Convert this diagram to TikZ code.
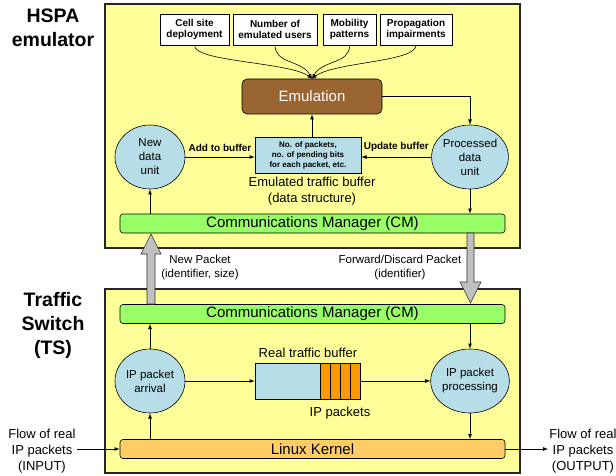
\documentclass[tikz,border=0pt]{standalone}
\usepackage{fontspec}
\setmainfont{Liberation Sans}
\usetikzlibrary{arrows,shapes.geometric}

\definecolor{panelyellow}{HTML}{FFFF99}
\definecolor{unitblue}{HTML}{B7DEE8}
\definecolor{cmgreen}{HTML}{99FF66}
\definecolor{emubrown}{HTML}{996633}
\definecolor{kernelorange}{HTML}{FFCC66}
\definecolor{pktorange}{HTML}{FF9900}
\definecolor{arrowgray}{HTML}{C0C0C0}

\begin{document}
\begin{tikzpicture}[x=1pt,y=-1pt]
      \useasboundingbox (0,0) rectangle (616,476);

      \tikzstyle{panel}=[draw=black!85,line width=1.2pt,fill=panelyellow]
      \tikzstyle{bar}=[rectangle,rounded corners=3pt,draw,line width=0.6pt,
        minimum width=385pt,minimum height=19pt,inner sep=0pt,
        font=\fontsize{15}{17}\selectfont]
      \tikzstyle{unit}=[ellipse,draw,line width=0.6pt,fill=unitblue,
        minimum width=70pt,minimum height=64pt,inner sep=0pt,align=center,
        font=\fontsize{11.5}{14}\selectfont]
      \tikzstyle{param}=[rectangle,draw,line width=0.6pt,fill=white,
        minimum height=31pt,inner sep=0pt,align=center,
        font=\fontsize{10}{11}\selectfont\bfseries]
      \tikzstyle{pkt}=[rectangle,draw,line width=0.6pt,fill=pktorange,
        minimum width=10pt,minimum height=36pt,inner sep=0pt]
      \tikzstyle{title}=[align=center,font=\fontsize{19.5}{24}\selectfont\bfseries]
      \tikzstyle{lbl}=[align=center,inner sep=1pt]
      \tikzstyle{bigarr}=[draw=black!80,line width=0.6pt,fill=arrowgray]
      \tikzstyle{ar}=[->,>=latex,line width=0.8pt]
      \tikzstyle{thin}=[->,>=latex,line width=0.6pt]

      % the two blocks
      \draw[panel] (105,4) rectangle (520,248);
      \draw[panel] (105,289) rectangle (520,473);

      \node[title] (hspat) at (53,28)  {HSPA\\emulator};
      \node[title] (tst)   at (53,325) {Traffic\\Switch\\(TS)};

      % HSPA emulator
      \node[param,minimum width=69pt] (cell) at (194.5,29.5) {Cell site\\deployment};
      \node[param,minimum width=84pt] (users) at (275,29.5) {Number of\\emulated users};
      \node[param,minimum width=53pt] (mob) at (349.5,29.5) {Mobility\\patterns};
      \node[param,minimum width=72pt] (prop) at (416,29.5) {Propagation\\impairments};

      \node[rectangle,rounded corners=5pt,draw,line width=0.6pt,fill=emubrown,
        text=white,minimum width=140pt,minimum height=35pt,
        font=\fontsize{15}{17}\selectfont] (emu) at (312,96.5) {Emulation};

      \node[unit] (newdu) at (150,157) {New\\data\\unit};
      \node[unit] (procdu) at (470,157) {Processed\\data\\unit};

      \node[rectangle,draw,line width=0.6pt,fill=unitblue,minimum width=106pt,
        minimum height=36pt,inner sep=0pt,align=center,
        font=\fontsize{8}{10}\selectfont\bfseries] (ebuf) at (308,155)
        {No. of packets,\\no. of pending bits\\for each packet, etc.};
      \node[lbl,font=\fontsize{13}{16}\selectfont] (ebufl) at (312,191)
        {Emulated traffic buffer\\(data structure)};

      \node[bar,fill=cmgreen] (cmtop) at (312.5,223.5) {Communications Manager (CM)};

      \draw[thin] (cell.south) .. controls (194,62) and (290,62) .. (emu.north);
      \draw[thin] (users.south) .. controls (275,64) and (302,60) .. (emu.north);
      \draw[thin] (mob.south) .. controls (350,64) and (322,60) .. (emu.north);
      \draw[thin] (prop.south) .. controls (416,62) and (334,62) .. (emu.north);

      \draw[ar] (emu.east) -| (procdu.north);
      \draw[ar] (ebuf.north -| emu.south) -- (emu.south);
      \draw[ar] (newdu.east) -- (newdu.east -| ebuf.west)
      node [midway,above=2pt,font=\fontsize{10}{12}\selectfont\bfseries] {Add to buffer};
      \draw[ar] (procdu.west) -- (procdu.west -| ebuf.east)
      node [midway,above=2pt,font=\fontsize{10}{12}\selectfont\bfseries] {Update buffer};
      \draw[ar] (newdu.south |- cmtop.north) -- (newdu.south);
      \draw[ar] (procdu.south) -- (procdu.south |- cmtop.north);

      % Traffic Switch
      \node[bar,fill=cmgreen] (cmbot) at (312.5,314) {Communications Manager (CM)};
      \node[bar,fill=kernelorange] (linux) at (312.5,449) {Linux Kernel};

      \node[unit] (arrive) at (150,381) {IP packet\\arrival};
      \node[unit] (ipproc) at (470,381) {IP packet\\processing};

      \node[rectangle,draw,line width=0.6pt,fill=unitblue,minimum width=65pt,
        minimum height=36pt] (rbuf) at (287.5,381) {};
      \foreach \i in {0,...,3}
        \node[pkt] (p\i) at (325+10*\i,381) {};
      \node[lbl,font=\fontsize{13}{16}\selectfont] (rbufl) at (308,353) {Real traffic buffer};
      \node[lbl,font=\fontsize{13}{16}\selectfont] (pktl) at (340,413) {IP packets};

      \draw[ar] (arrive.south |- linux.north) -- (arrive.south);
      \draw[ar] (arrive.north) -- (arrive.north |- cmbot.south);
      \draw[ar] (arrive.east) -- (rbuf.west);
      \draw[ar] (p3.east) -- (ipproc.west);
      \draw[ar] (ipproc.north |- cmbot.south) -- (ipproc.north);
      \draw[ar] (ipproc.south) -- (ipproc.south |- linux.north);

      \node[lbl,font=\fontsize{13}{16}\selectfont] (inflow) at (42,451)
        {Flow of real\\IP packets\\(INPUT)};
      \node[lbl,font=\fontsize{13}{16}\selectfont] (outflow) at (583,451)
        {Flow of real\\IP packets\\(OUTPUT)};
      \draw[ar] (inflow.east |- linux.west) -- (linux.west);
      \draw[ar] (linux.east) -- (outflow.west |- linux.east);

      % exchange between the two blocks
      \draw[bigarr] (147,304) -- (147,254) -- (141,254) -- (151,234)
        -- (161,254) -- (155,254) -- (155,304) -- cycle;
      \draw[bigarr] (467,233) -- (467,282) -- (460,282) -- (470.5,303)
        -- (481,282) -- (474,282) -- (474,233) -- cycle;
      \node[lbl,font=\fontsize{11.5}{14}\selectfont] (newpkt) at (200,268)
        {New Packet\\(identifier, size)};
      \node[lbl,font=\fontsize{11.5}{14}\selectfont] (fwdpkt) at (400,268)
        {Forward/Discard Packet\\(identifier)};
\end{tikzpicture}
\end{document}
